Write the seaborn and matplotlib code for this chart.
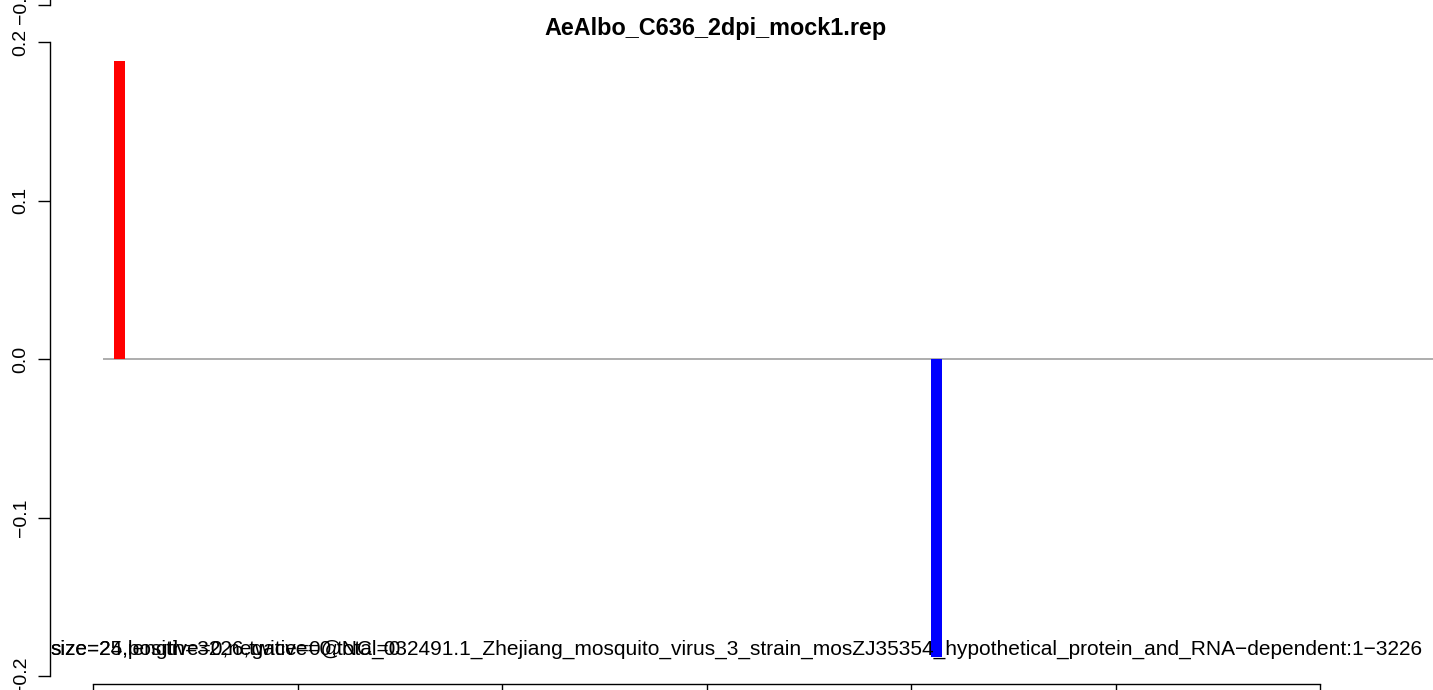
import matplotlib
matplotlib.use('Agg')
import matplotlib.pyplot as plt
import numpy as np
import pandas as pd
import seaborn as sns

# coverage
positions = [65, 2062]
coverage = [0.188, -0.188]
strands = ['+', '-']
strand_colors = {'+': 'red', '-': 'blue'}
bar_width_nt = 27

title = 'AeAlbo_C636_2dpi_mock1.rep'
label_a = ('size=25,length=3226,twice=0@NC_032491.1_Zhejiang_mosquito_virus_3_strain_'
           'mosZJ35354_hypothetical_protein_and_RNA\u2212dependent:1\u22123226')
label_b = 'size=24,positive=0,negative=0,total=0'
yticks = [-0.2, -0.1, 0.0, 0.1, 0.2]
xticks = [0, 500, 1000, 1500, 2000, 2500, 3000]

sns.set_theme(style='ticks')
plt.rcParams['font.family'] = ['Liberation Sans', 'DejaVu Sans']
plt.rcParams['text.color'] = 'black'
plt.rcParams['xtick.color'] = 'black'
plt.rcParams['ytick.color'] = 'black'

W, H = 1433, 690
fig = plt.figure(figsize=(W / 100, H / 100), dpi=100)

# main panel: y axis at px 50, 0.2 at px 42, -0.2 at px 676
ax = fig.add_axes([50 / W, (H - 676) / H, (W - 50) / W, 634 / H])
px_per_nt = 204.5 / 500
xlim = (-43 / px_per_nt, (W - 93) / px_per_nt)

df = pd.DataFrame({'pos': positions, 'cov': coverage, 'strand': strands})
min_gap = np.min(np.diff(sorted(positions)))
sns.barplot(data=df, x='pos', y='cov', hue='strand', palette=strand_colors,
            native_scale=True, width=bar_width_nt / min_gap, dodge=False,
            legend=False, ax=ax, saturation=1, edgecolor='none')
ax.set_xlim(*xlim)
ax.set_ylim(-0.2, 0.2)

ax.hlines(0, 24, 3400, color='#a0a0a0', lw=1.2, zorder=0)

for s in ['top', 'right']:
    ax.spines[s].set_visible(False)
ax.spines['left'].set_bounds(-0.2, 0.2)
ax.spines['bottom'].set_position(('outward', 6))
ax.spines['bottom'].set_bounds(0, 3000)
for s in ['left', 'bottom']:
    ax.spines[s].set_color('black')
    ax.spines[s].set_linewidth(1.0)
ax.set_yticks(yticks, ['\u22120.2', '\u22120.1', '0.0', '0.1', '0.2'])
ax.set_xticks(xticks)
ax.tick_params(axis='y', direction='out', length=8.6, width=1.0, color='black',
               labelsize=14, pad=6, labelrotation=90, labelcolor='black')
for lab in ax.get_yticklabels():
    lab.set_va('center')
ax.tick_params(axis='x', direction='out', length=20, width=1.0, color='black',
               labelbottom=False)
ax.set_xlabel('')
ax.set_ylabel('')
ax.set_facecolor('none')

# fragment of the next panel's axis peeking in at the top
ax2 = fig.add_axes([50 / W, (H - 5) / H, 0.3, 0.6])
ax2.set_ylim(-0.2, 0.2)
ax2.set_xticks([])
ax2.set_yticks([-0.2], ['\u22120.2'])
for s in ['top', 'right', 'bottom']:
    ax2.spines[s].set_visible(False)
ax2.spines['left'].set_color('black')
ax2.spines['left'].set_linewidth(1.0)
ax2.tick_params(axis='y', direction='out', length=8.6, width=1.0, color='black',
                labelsize=14, pad=6, labelrotation=90, labelcolor='black')
for lab in ax2.get_yticklabels():
    lab.set_va('center')
ax2.set_facecolor('none')

fig.text(716 / W, (H - 28) / H, title, ha='center', va='center',
         fontsize=16.8, fontweight='bold', color='black')
fig.text(50 / W, (H - 655) / H, label_a, ha='left', va='baseline', fontsize=15,
         color='black')
fig.text(50 / W, (H - 655) / H, label_b, ha='left', va='baseline', fontsize=15,
         color='black')

fig.savefig('out.png', dpi=100, facecolor='white')
